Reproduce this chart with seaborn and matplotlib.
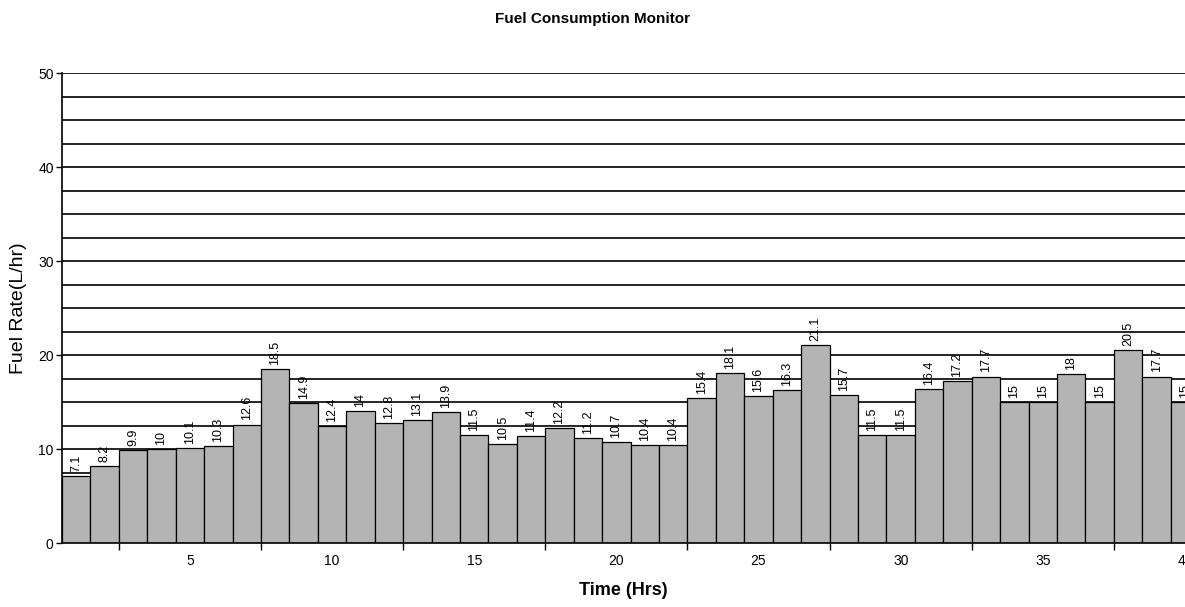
import numpy as np
import pandas as pd
import matplotlib
matplotlib.use('Agg')
import matplotlib.pyplot as plt
import seaborn as sns

hours = list(range(1, 41))
fuel_rate = [7.1, 8.2, 9.9, 10, 10.1, 10.3, 12.6, 18.5, 14.9, 12.4,
             14, 12.8, 13.1, 13.9, 11.5, 10.5, 11.4, 12.2, 11.2, 10.7,
             10.4, 10.4, 15.4, 18.1, 15.6, 16.3, 21.1, 15.7, 11.5, 11.5,
             16.4, 17.2, 17.7, 15, 15, 18, 15, 20.5, 17.7, 15]

sns.set_style('white')
plt.rcParams['font.family'] = ['Liberation Sans', 'DejaVu Sans']
plt.rcParams['text.color'] = 'black'
plt.rcParams['axes.labelcolor'] = 'black'
plt.rcParams['xtick.color'] = 'black'
plt.rcParams['ytick.color'] = 'black'

df = pd.DataFrame({'hour': hours, 'rate': fuel_rate})

fig = plt.figure(figsize=(11.85, 6.07), dpi=100)
ax = fig.add_axes([0.0523, 0.1054, 0.9477, 0.7743])

sns.barplot(data=df, x='hour', y='rate', native_scale=True, width=1,
            color='#b4b4b4', saturation=1, edgecolor='black', linewidth=0.9, ax=ax)

ax.bar_label(ax.containers[0], labels=[f'{v:g}' for v in fuel_rate],
             rotation=90, padding=3, fontsize=9, color='black')

ax.set_xlim(0.5, 40)
ax.set_ylim(0, 50)
ax.set_yticks(np.arange(0, 51, 10))
ax.set_yticks(np.arange(0, 50, 2.5), minor=True)
ax.set_xticks(np.arange(5, 41, 5))
ax.set_xticks(np.arange(2.5, 40, 5), minor=True)
ax.grid(axis='y', which='both', color='black', linewidth=1.2)
ax.set_axisbelow(True)

ax.tick_params(axis='x', which='major', length=0, labelsize=10, pad=8)
ax.tick_params(axis='x', which='minor', length=5, width=1, bottom=True, color='black')
ax.tick_params(axis='y', which='major', length=4, width=1, left=True, labelsize=10, pad=2, color='black')
ax.tick_params(axis='y', which='minor', length=0)

for side in ['top', 'right']:
    ax.spines[side].set_visible(False)
for side in ['left', 'bottom']:
    ax.spines[side].set_color('black')
    ax.spines[side].set_linewidth(1.2)

ax.set_xlabel('Time (Hrs)', fontsize=13, fontweight='bold', labelpad=10)
ax.set_ylabel('Fuel Rate(L/hr)', fontsize=14, labelpad=8)
fig.suptitle('Fuel Consumption Monitor', fontsize=11, fontweight='bold', y=0.98)

fig.savefig('out.png', dpi=100)
